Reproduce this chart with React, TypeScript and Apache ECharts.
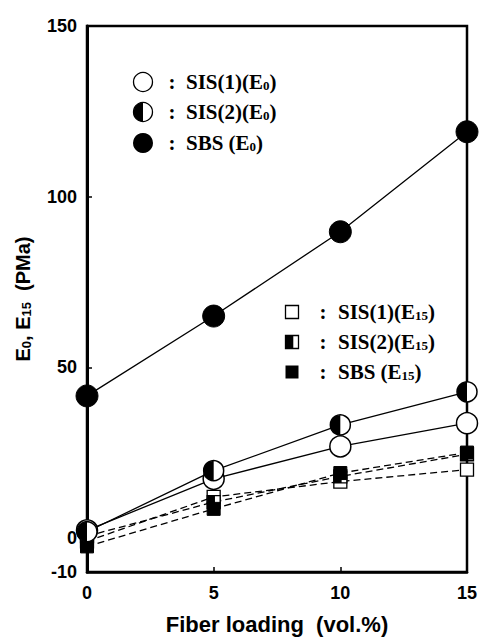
import React, { useEffect, useRef } from 'react';
import * as echarts from 'echarts';

const fiberLoading = [0, 5, 10, 15];
const sis1E0 = [2.2, 17.3, 26.8, 33.6];
const sis2E0 = [1.8, 19.7, 33.1, 42.8];
const sbsE0 = [41.6, 65, 89.7, 119];
const sis1E15 = [-1, 12, 16.5, 20];
const sis2E15 = [0.5, 10.5, 18, 24.5];
const sbsE15 = [-2.5, 8.5, 19, 25];
const yTickLabels = [-10, 0, 50, 100, 150];
const yTickMarks = [50, 100];
const xTickLabels = [0, 5, 10, 15];

const upperLegend = ['SIS(1)(E|0|)', 'SIS(2)(E|0|)', 'SBS (E|0|)'];
const lowerLegend = ['SIS(1)(E|15|)', 'SIS(2)(E|15|)', 'SBS (E|15|)'];

const pairs = (ys: number[]) => fiberLoading.map((x, i) => [x, ys[i]]);

const SERIF = '"Liberation Serif", "Times New Roman", serif';
const SANS = '"Liberation Sans", Arial, Helvetica, sans-serif';

function richLabel(s: string) {
  const [a, b, c] = s.split('|');
  return `{m|${a}}{s|${b}}{m|${c}}`;
}

const legendRich = {
  m: { fontFamily: SERIF, fontWeight: 'bold', fontSize: 21, fill: '#000' },
  s: { fontFamily: SERIF, fontWeight: 'bold', fontSize: 13, fill: '#000', verticalAlign: 'bottom', padding: [0, 0, 1, 0] },
};

export default function App() {
  const ref = useRef<HTMLDivElement>(null);
  useEffect(() => {
    document.body.style.margin = '0';
    const chart = echarts.init(ref.current!, undefined, { renderer: 'svg' });

    const legendGraphics: any[] = [];
    const uy = [82, 112, 143];
    upperLegend.forEach((lab, i) => {
      const cx = 143, cy = uy[i], r = 9.5;
      if (i === 0) {
        legendGraphics.push({ type: 'circle', shape: { cx, cy, r }, style: { fill: '#fff', stroke: '#000', lineWidth: 1.3 } });
      } else if (i === 1) {
        legendGraphics.push({ type: 'circle', shape: { cx, cy, r }, style: { fill: '#fff', stroke: '#000', lineWidth: 1.3 } });
        legendGraphics.push({ type: 'sector', shape: { cx, cy, r0: 0, r, startAngle: Math.PI / 2, endAngle: Math.PI * 1.5 }, style: { fill: '#000' } });
      } else {
        legendGraphics.push({ type: 'circle', shape: { cx, cy, r: r + 0.5 }, style: { fill: '#000' } });
      }
      legendGraphics.push({ type: 'text', x: 172, y: cy, style: { text: ':', font: `bold 21px ${SERIF}`, fill: '#000', align: 'center', verticalAlign: 'middle' } });
      legendGraphics.push({ type: 'text', x: 186, y: cy, style: { text: richLabel(lab), rich: legendRich, align: 'left', verticalAlign: 'middle' } });
    });
    const ly = [312, 342, 372];
    lowerLegend.forEach((lab, i) => {
      const cx = 292, cy = ly[i], h = 6.5;
      if (i === 0) {
        legendGraphics.push({ type: 'rect', shape: { x: cx - h, y: cy - h, width: 2 * h, height: 2 * h }, style: { fill: '#fff', stroke: '#000', lineWidth: 1.3 } });
      } else if (i === 1) {
        legendGraphics.push({ type: 'rect', shape: { x: cx - h, y: cy - h, width: 2 * h, height: 2 * h }, style: { fill: '#fff', stroke: '#000', lineWidth: 1.3 } });
        legendGraphics.push({ type: 'rect', shape: { x: cx - h, y: cy - h, width: h * 1.2, height: 2 * h }, style: { fill: '#000' } });
      } else {
        legendGraphics.push({ type: 'rect', shape: { x: cx - h, y: cy - h, width: 2 * h, height: 2 * h }, style: { fill: '#000' } });
      }
      legendGraphics.push({ type: 'text', x: 323, y: cy, style: { text: ':', font: `bold 21px ${SERIF}`, fill: '#000', align: 'center', verticalAlign: 'middle' } });
      legendGraphics.push({ type: 'text', x: 338, y: cy, style: { text: richLabel(lab), rich: legendRich, align: 'left', verticalAlign: 'middle' } });
    });

    const halfCircle = (params: any, api: any) => {
      const p = api.coord([api.value(0), api.value(1)]);
      const r = 10;
      return {
        type: 'group',
        children: [
          { type: 'circle', shape: { cx: p[0], cy: p[1], r }, style: { fill: '#fff', stroke: '#000', lineWidth: 1.5 } },
          { type: 'sector', shape: { cx: p[0], cy: p[1], r0: 0, r, startAngle: Math.PI / 2, endAngle: Math.PI * 1.5 }, style: { fill: '#000' } },
        ],
      };
    };
    const halfSquare = (params: any, api: any) => {
      const p = api.coord([api.value(0), api.value(1)]);
      const h = 6.5;
      return {
        type: 'group',
        children: [
          { type: 'rect', shape: { x: p[0] - h, y: p[1] - h, width: 2 * h, height: 2 * h }, style: { fill: '#fff', stroke: '#000', lineWidth: 1.3 } },
          { type: 'rect', shape: { x: p[0] - h, y: p[1] - h, width: h * 1.2, height: 2 * h }, style: { fill: '#000' } },
        ],
      };
    };

    const dashed = { color: '#000', width: 1.3, type: [7, 4] as any };
    const solid = { color: '#000', width: 1.3, type: 'solid' as any };

    chart.setOption({
      animation: false,
      backgroundColor: '#fff',
      grid: { left: 87, right: 12, top: 26, bottom: 66, outerBoundsMode: 'none', containLabel: false, show: true, borderColor: '#000', borderWidth: 2.5, backgroundColor: 'transparent' },
      xAxis: {
        type: 'value',
        min: 0,
        max: 15,
        interval: 5,
        name: 'Fiber loading  (vol.%)',
        nameLocation: 'middle',
        nameGap: 41,
        nameTextStyle: { fontFamily: SANS, fontWeight: 'bold', fontSize: 22, color: '#000' },
        axisLine: { show: true, onZero: false, lineStyle: { color: '#000', width: 2.5 } },
        axisTick: { show: true, inside: true, length: 5, lineStyle: { color: '#000', width: 1.5 }, customValues: xTickLabels },
        axisLabel: { margin: 12, fontFamily: SANS, fontWeight: 'bold', fontSize: 18, color: '#000', customValues: xTickLabels },
        splitLine: { show: false },
      },
      yAxis: {
        type: 'value',
        min: -10,
        max: 150,
        name: 'E{s|0}, E{s|15}  (PMa)',
        nameLocation: 'middle',
        nameGap: 54,
        nameTextStyle: {
          fontFamily: SANS, fontWeight: 'bold', fontSize: 20, color: '#000',
          rich: { s: { fontFamily: SANS, fontWeight: 'bold', fontSize: 13, color: '#000', verticalAlign: 'bottom' } },
        },
        axisLine: { show: true, onZero: false, lineStyle: { color: '#000', width: 3 } },
        axisTick: { show: true, inside: true, length: 5, lineStyle: { color: '#000', width: 1.5 }, customValues: yTickMarks },
        axisLabel: { margin: 10, fontFamily: SANS, fontWeight: 'bold', fontSize: 18, color: '#000', customValues: yTickLabels },
        splitLine: { show: false },
      },
      graphic: legendGraphics,
      series: [
        { name: 'SIS(1)(E15)', type: 'line', data: pairs(sis1E15), lineStyle: dashed, symbol: 'rect', symbolSize: 13, itemStyle: { color: '#fff', borderColor: '#000', borderWidth: 1.3 }, z: 3 },
        { name: 'SIS(2)(E15) line', type: 'line', data: pairs(sis2E15), lineStyle: dashed, symbol: 'none', z: 3 },
        { name: 'SIS(2)(E15)', type: 'custom', data: pairs(sis2E15), renderItem: halfSquare, encode: { x: 0, y: 1 }, z: 4 },
        { name: 'SBS (E15)', type: 'line', data: pairs(sbsE15), lineStyle: dashed, symbol: 'rect', symbolSize: 13, itemStyle: { color: '#000', borderColor: '#000' }, z: 5 },
        { name: 'SIS(1)(E0)', type: 'line', data: pairs(sis1E0), lineStyle: solid, symbol: 'circle', symbolSize: 21, itemStyle: { color: '#fff', borderColor: '#000', borderWidth: 1.5 }, z: 6 },
        { name: 'SIS(2)(E0) line', type: 'line', data: pairs(sis2E0), lineStyle: solid, symbol: 'none', z: 6 },
        { name: 'SIS(2)(E0)', type: 'custom', data: pairs(sis2E0), renderItem: halfCircle, encode: { x: 0, y: 1 }, z: 7 },
        { name: 'SBS (E0)', type: 'line', data: pairs(sbsE0), lineStyle: solid, symbol: 'circle', symbolSize: 22, itemStyle: { color: '#000', borderColor: '#000' }, z: 8 },
      ],
    });
    return () => chart.dispose();
  }, []);
  return <div ref={ref} style={{ position: 'fixed', left: 0, top: 0, width: 479, height: 638, background: '#fff' }} />;
}
